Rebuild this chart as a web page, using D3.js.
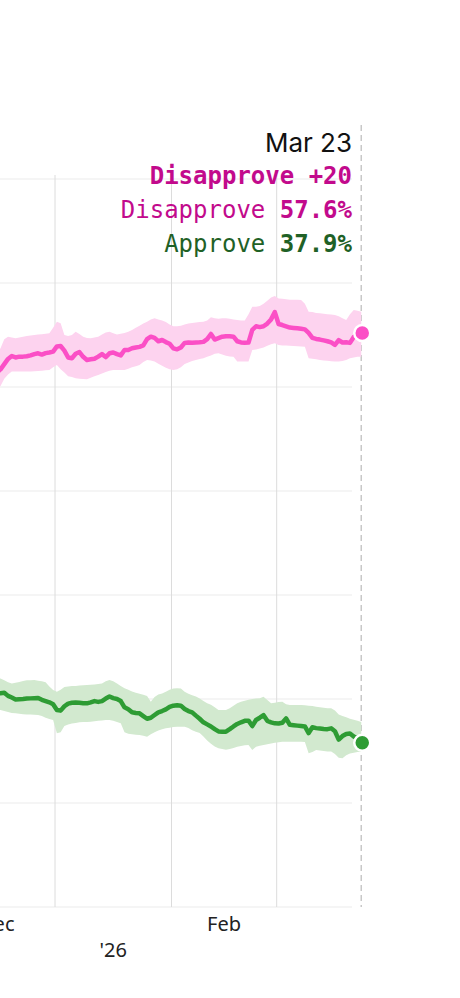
<!DOCTYPE html>
<html>
<head>
<meta charset="utf-8">
<script src="https://cdn.jsdelivr.net/npm/d3@7"></script>
<style>
  html, body { margin: 0; padding: 0; background: #fff; }
  svg { display: block; }
</style>
</head>
<body>
<svg id="chart" width="460" height="998"></svg>
<script>
// ---- data (daily, Dec 16 2025 .. Mar 23 2026) ----
const startDate = "2025-12-16";
const endDate = "2026-03-23";
const disapprove = [55.7,55.85,56.1,56.35,56.49,56.42,56.46,56.46,56.48,56.52,56.58,56.62,56.56,56.63,56.66,56.7,
  56.95,56.97,56.75,56.42,56.38,56.6,56.68,56.45,56.3,56.33,56.36,56.46,56.58,56.44,56.62,56.66,56.58,56.52,56.78,56.78,
  56.86,56.9,56.93,57.0,57.3,57.42,57.36,57.2,57.26,57.16,57.08,56.86,56.81,56.9,57.12,57.14,57.13,57.14,57.15,57.17,
  57.3,57.55,57.28,57.35,57.42,57.44,57.44,57.42,57.2,57.14,57.13,57.14,57.75,57.92,57.88,57.92,58.05,58.25,58.6,58.03,
  57.98,57.92,57.86,57.84,57.82,57.8,57.77,57.6,57.36,57.31,57.28,57.24,57.2,57.14,57.02,57.25,57.14,57.15,57.12,57.4,57.5,57.6];
const disapproveHigh = [56.6,56.86,57.3,57.42,57.38,57.34,57.38,57.42,57.45,57.48,57.5,57.52,57.54,57.56,57.58,57.85,
  58.14,58.06,57.5,57.45,57.5,57.66,57.55,57.42,57.36,57.34,57.38,57.42,57.52,57.62,57.66,57.58,57.52,57.56,57.6,57.66,
  57.74,57.85,57.95,58.05,58.14,58.25,58.3,58.24,58.2,58.12,58.0,57.92,57.92,57.95,58.0,58.05,58.08,58.1,58.12,58.14,
  58.2,58.35,58.3,58.28,58.3,58.3,58.28,58.25,58.22,58.2,58.2,58.5,58.86,58.86,58.9,59.0,59.15,59.3,59.38,59.26,
  59.24,59.22,59.2,59.2,59.19,59.18,59.0,58.62,58.6,58.56,58.54,58.52,58.5,58.48,58.46,58.4,58.3,58.22,58.5,58.7,58.66,58.62];
const disapproveLow = [54.9,55.05,55.4,55.6,55.74,55.74,55.74,55.74,55.75,55.75,55.76,55.77,55.78,55.8,55.82,55.95,
  56.06,55.85,55.7,55.52,55.48,55.42,55.4,55.38,55.37,55.45,55.52,55.58,55.65,55.72,55.78,55.82,55.82,55.82,55.82,55.88,
  55.95,56.0,56.06,56.2,56.3,56.28,56.22,56.12,56.02,55.92,55.85,55.82,55.85,55.95,56.1,56.18,56.25,56.3,56.35,56.38,
  56.45,56.52,56.6,56.62,56.56,56.5,56.47,56.46,56.22,56.22,56.22,56.22,56.78,56.8,56.85,56.9,56.98,57.05,57.1,57.02,
  57.0,56.99,56.98,56.97,56.96,56.95,56.94,56.38,56.36,56.34,56.3,56.28,56.26,56.24,56.22,56.22,56.25,56.3,56.38,56.42,56.46,56.46];
const approve = [40.25,40.28,40.3,40.15,40.07,39.98,39.99,40.0,40.02,40.03,40.04,40.05,39.96,39.9,39.84,39.75,
  39.47,39.44,39.65,39.78,39.82,39.83,39.82,39.8,39.79,39.84,39.9,39.86,39.9,40.02,40.12,40.04,40.0,39.9,39.6,39.51,
  39.36,39.33,39.31,39.18,39.05,39.1,39.23,39.36,39.42,39.5,39.62,39.68,39.7,39.68,39.52,39.42,39.36,39.2,39.05,38.88,
  38.78,38.68,38.55,38.44,38.43,38.43,38.55,38.68,38.8,38.88,38.95,38.96,38.7,38.99,39.1,39.22,38.95,38.88,38.83,38.82,
  38.86,39.07,38.76,38.74,38.72,38.7,38.68,38.36,38.64,38.6,38.58,38.56,38.55,38.59,38.45,38.05,38.22,38.32,38.34,38.2,38.1,37.9];
const approveHigh = [41.0,40.99,40.9,40.8,40.75,40.78,40.82,40.86,40.9,40.9,40.91,40.88,40.85,40.8,40.6,40.43,
  40.35,40.45,40.58,40.6,40.62,40.63,40.65,40.66,40.67,40.68,40.7,40.72,40.75,40.85,40.91,40.85,40.75,40.62,40.52,40.45,
  40.36,40.3,40.25,40.2,40.15,39.87,40.1,40.22,40.27,40.35,40.45,40.51,40.52,40.51,40.35,40.25,40.18,40.12,40.02,39.9,
  39.8,39.72,39.6,39.47,39.47,39.47,39.55,39.68,39.8,39.87,39.92,39.96,40.0,40.02,40.04,40.11,39.95,39.8,39.82,39.85,
  39.87,39.75,39.71,39.71,39.71,39.71,39.7,39.68,39.66,39.63,39.6,39.58,39.56,39.55,39.45,39.25,39.18,39.12,39.05,39.0,38.95,38.9];
const approveLow = [39.45,39.47,39.42,39.37,39.33,39.31,39.29,39.27,39.26,39.25,39.24,39.23,39.18,39.1,39.04,38.99,
  38.35,38.4,38.7,38.78,38.82,38.85,38.88,38.9,38.9,38.91,38.93,38.95,38.97,38.99,38.99,38.95,38.9,38.84,38.4,38.33,
  38.3,38.28,38.27,38.23,38.19,38.3,38.4,38.48,38.55,38.59,38.62,38.65,38.67,38.67,38.67,38.6,38.5,38.42,38.36,38.2,
  38.0,37.85,37.72,37.63,37.6,37.56,37.6,37.65,37.7,37.74,37.78,37.79,37.55,37.7,37.75,37.79,37.82,37.86,37.9,37.92,
  37.95,37.95,37.95,37.95,37.95,37.95,37.93,37.39,37.45,37.55,37.52,37.5,37.48,37.47,37.35,37.18,37.15,37.3,37.38,37.42,37.45,37.47];

const yTicks = [30, 35, 40, 45, 50, 55, 60, 65];
const monthLines = ["2026-01-01", "2026-02-01", "2026-03-01"];
const monthLabels = [["2025-12-01", "Dec"], ["2026-02-01", "Feb"]];
const yearLabels = [["2026-01-01", "'26"]];
const headerDate = "Mar 23";
const marginLabel = "Disapprove +20";
const seriesLabels = [["Disapprove", "57.6%"], ["Approve", "37.9%"]];

// ---- layout ----
const svg = d3.select("#chart");
const parse = d3.utcParse("%Y-%m-%d");
const days = d3.utcDay.range(parse(startDate), d3.utcDay.offset(parse(endDate), 1))
  .map(d => d3.utcHour.offset(d, 12));

const x = d3.scaleUtc()
  .domain([parse("2026-01-01"), parse("2026-03-01")])
  .range([55, 276.7]);
const y = d3.scaleLinear().domain([30, 65]).range([907, 179]);
const gridRight = 352;

// horizontal grid
svg.append("g").selectAll("line").data(yTicks).join("line")
  .attr("x1", -10).attr("x2", gridRight)
  .attr("y1", d => y(d)).attr("y2", d => y(d))
  .attr("stroke", "#ebebeb").attr("stroke-width", 1);

// vertical month grid
svg.append("g").selectAll("line").data(monthLines).join("line")
  .attr("x1", d => x(parse(d))).attr("x2", d => x(parse(d)))
  .attr("y1", y(65) - 4).attr("y2", y(30))
  .attr("stroke", "#dcdcdc").attr("stroke-width", 1);

// month labels centered in month
function monthMid(s) {
  const a = parse(s);
  const b = d3.utcMonth.offset(a, 1);
  return (x(a) + x(b)) / 2;
}
svg.append("g").selectAll("text").data(monthLabels).join("text")
  .attr("x", d => monthMid(d[0])).attr("y", 931)
  .attr("text-anchor", "middle")
  .attr("font-family", "'Noto Sans', sans-serif").attr("font-size", 20)
  .attr("fill", "#222").text(d => d[1]);
svg.append("g").selectAll("text").data(yearLabels).join("text")
  .attr("x", d => monthMid(d[0])).attr("y", 957)
  .attr("text-anchor", "middle")
  .attr("font-family", "'Noto Sans', sans-serif").attr("font-size", 20)
  .attr("fill", "#222").text(d => d[1]);

// dashed current-date rule
const lastX = x(days[days.length - 1]);
svg.append("line")
  .attr("x1", lastX).attr("x2", lastX).attr("y1", 125).attr("y2", y(30))
  .attr("stroke", "#c8c8c8").attr("stroke-width", 1.5).attr("stroke-dasharray", "6,4");

function drawSeries(vals, lo, hi, lineColor, bandColor) {
  const rows = days.map((d, i) => ({ d, v: vals[i], lo: lo[i], hi: hi[i] }));
  svg.append("path").datum(rows)
    .attr("d", d3.area().x(r => x(r.d)).y0(r => y(r.lo)).y1(r => y(r.hi)))
    .attr("fill", bandColor);
  svg.append("path").datum(rows)
    .attr("d", d3.line().x(r => x(r.d)).y(r => y(r.v)))
    .attr("fill", "none").attr("stroke", lineColor).attr("stroke-width", 4.5)
    .attr("stroke-linejoin", "round");
  const last = rows[rows.length - 1];
  svg.append("circle").attr("cx", x(last.d) + 1).attr("cy", y(last.v)).attr("r", 8)
    .attr("fill", lineColor).attr("stroke", "#fff").attr("stroke-width", 2.5);
}
drawSeries(disapprove, disapproveLow, disapproveHigh, "#fb4fc6", "#fdd3ef");
drawSeries(approve, approveLow, approveHigh, "#2e9c34", "#d2e9cf");

// header text
const tx = 352;
svg.append("text").attr("x", tx).attr("y", 152).attr("text-anchor", "end")
  .attr("font-family", "Inter, sans-serif").attr("font-size", 26).attr("fill", "#111")
  .text(headerDate);
svg.append("text").attr("x", tx).attr("y", 184).attr("text-anchor", "end")
  .attr("font-family", "'DejaVu Sans Mono', monospace").attr("font-size", 24)
  .attr("font-weight", "bold").attr("fill", "#c20a8c").text(marginLabel);
const colors = ["#c20a8c", "#1f6126"];
seriesLabels.forEach((s, i) => {
  const t = svg.append("text").attr("x", tx).attr("y", 218 + i * 33.5).attr("text-anchor", "end")
    .attr("font-family", "'DejaVu Sans Mono', monospace").attr("font-size", 24)
    .attr("fill", colors[i]);
  t.append("tspan").text(s[0] + " ");
  t.append("tspan").attr("font-weight", "bold").text(s[1]);
});
</script>
</body>
</html>
